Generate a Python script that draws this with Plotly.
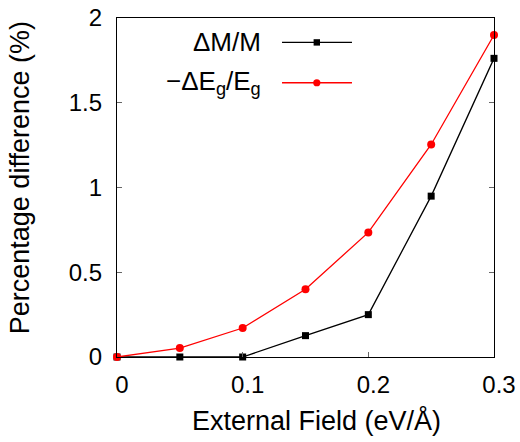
import plotly.graph_objects as go

# External field values (eV/Å)
field = [0.0, 0.05, 0.10, 0.15, 0.20, 0.25, 0.30]
# Percentage differences (%)
dM_over_M = [0.0, 0.0, 0.0, 0.126, 0.25, 0.949, 1.762]
neg_dEg_over_Eg = [0.0, 0.053, 0.171, 0.40, 0.735, 1.254, 1.90]

series_names = ["ΔM/M", "−ΔE<sub>g</sub>/E<sub>g</sub>"]
series_colors = ["#000000", "#ff0000"]
series_symbols = ["square", "circle"]

x_ticks = [0, 0.1, 0.2, 0.3]
x_tick_text = ["0", "0.1", "0.2", "0.3"]
y_ticks = [0, 0.5, 1, 1.5, 2]
y_tick_text = ["0", "0.5", "1", "1.5", "2"]

x_title = "External Field (eV/Å)"
y_title = "Percentage difference (%)"

FONT = "Liberation Sans, Arial, sans-serif"

fig = go.Figure()
for ys, name, color, symbol, msize in zip(
    [dM_over_M, neg_dEg_over_Eg], series_names, series_colors, series_symbols, [7, 8]
):
    fig.add_trace(
        go.Scatter(
            x=field,
            y=ys,
            name=name,
            mode="lines+markers",
            line=dict(color=color, width=1.3),
            marker=dict(color=color, symbol=symbol, size=msize),
            cliponaxis=False,
            showlegend=False,
        )
    )

# Key: label on the left, sample line with marker on the right
key_rows = [0.928, 0.809]
key_text_x = 0.387
key_line = (0.4377, 0.6233)
key_mark = 0.530
shapes = []
annotations = []
for row_y, name, color, symbol in zip(key_rows, series_names, series_colors, series_symbols):
    annotations.append(
        dict(
            x=key_text_x, y=row_y, xref="paper", yref="paper",
            text=name, showarrow=False, xanchor="right", yanchor="middle",
            font=dict(family=FONT, size=26, color="#000000"),
        )
    )
    shapes.append(
        dict(
            type="line", xref="paper", yref="paper",
            x0=key_line[0], x1=key_line[1], y0=row_y, y1=row_y,
            line=dict(color=color, width=1.3),
        )
    )
    half = 3.2 if symbol == "square" else 3.6
    shapes.append(
        dict(
            type="rect" if symbol == "square" else "circle",
            xref="paper", yref="paper",
            xsizemode="pixel", ysizemode="pixel",
            xanchor=key_mark, yanchor=row_y,
            x0=-half, x1=half, y0=-half, y1=half,
            fillcolor=color, line=dict(color=color, width=0),
        )
    )

# Axis titles
annotations.append(
    dict(
        x=0.53, y=-0.186, xref="paper", yref="paper",
        text=x_title, showarrow=False, xanchor="center", yanchor="middle",
        font=dict(family=FONT, size=27, color="#000000"),
    )
)
annotations.append(
    dict(
        x=-0.2567, y=0.528, xref="paper", yref="paper",
        text=y_title, showarrow=False, xanchor="center", yanchor="middle",
        textangle=-90,
        font=dict(family=FONT, size=27, color="#000000"),
    )
)

axis_common = dict(
    showgrid=False,
    zeroline=False,
    showline=True,
    linecolor="#000000",
    linewidth=1.3,
    ticks="inside",
    ticklen=5,
    tickwidth=1,
    tickcolor="#666666",
    tickfont=dict(family=FONT, size=24, color="#000000"),
    automargin=False,
)

fig.update_layout(
    width=520,
    height=442,
    margin=dict(l=117, r=26, t=18, b=85, autoexpand=False),
    paper_bgcolor="#ffffff",
    plot_bgcolor="#ffffff",
    font=dict(family=FONT, color="#000000"),
    xaxis=dict(
        range=[0, 0.3],
        tickvals=x_ticks,
        ticktext=x_tick_text,
        mirror=True,
        ticklabelstandoff=6,
        ticklabelshift=5,
        **axis_common,
    ),
    yaxis=dict(
        range=[0, 2],
        tickvals=y_ticks,
        ticktext=y_tick_text,
        mirror="ticks",
        ticklabelstandoff=9,
        **axis_common,
    ),
    shapes=shapes,
    annotations=annotations,
)

fig.write_html("out.html")
